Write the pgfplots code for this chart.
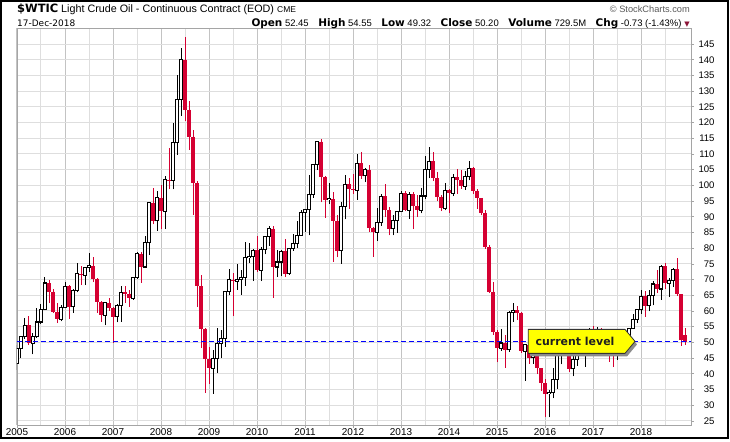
\documentclass[border=0pt]{standalone}
\usepackage{fontspec}
\setmainfont{Liberation Sans}
\newfontfamily\dejavu{DejaVu Sans}
\usepackage{pgfplots}
\pgfplotsset{compat=1.18}
\usepackage{pgfplotstable}

\definecolor{candlered}{RGB}{213,0,50}
\definecolor{gridyear}{RGB}{195,195,195}
\definecolor{gridlight}{RGB}{222,222,222}
\definecolor{axisgray}{RGB}{165,165,165}
\definecolor{levelblue}{RGB}{0,0,255}
\definecolor{calloutyellow}{RGB}{255,255,0}
\definecolor{arrowred}{RGB}{140,20,55}

% month index m: Jan 2005 = 0
\pgfplotstableread{
m o h l c
0 43.4 49.3 41.3 48.2
1 48.2 52.0 45.0 51.8
2 51.8 57.7 51.1 55.4
4 49.7 53.0 46.2 52.0
5 52.0 60.9 51.5 56.5
6 56.5 62.3 55.7 60.6
7 60.6 70.9 60.3 68.9
11 57.3 61.8 56.7 61.0
12 61.0 69.2 60.8 67.9
14 61.4 67.1 59.5 66.6
15 66.6 75.4 65.9 71.9
17 71.3 74.0 68.2 73.9
18 73.9 78.4 72.4 74.4
22 58.7 62.9 55.4 62.6
25 58.1 62.3 56.4 61.8
26 61.8 68.1 56.6 65.9
29 64.0 70.8 63.5 70.7
30 70.7 78.8 70.2 78.2
32 74.0 83.9 73.8 81.7
33 81.7 94.7 77.8 94.5
35 88.7 98.2 85.6 96.0
37 91.8 103.1 86.1 101.8
39 101.6 119.9 98.7 113.5
40 113.5 135.1 109.7 127.4
41 127.4 143.7 122.0 140.0
49 41.7 47.6 33.6 44.8
50 44.8 54.7 40.2 49.7
51 49.7 54.0 45.0 51.1
52 51.1 66.4 48.6 66.3
53 66.3 73.4 65.0 69.9
55 69.5 75.0 66.7 70.0
56 70.0 72.9 65.1 70.6
57 70.6 82.0 68.0 77.0
58 77.0 81.5 75.2 77.4
59 77.4 79.6 69.5 79.4
61 72.9 80.5 69.5 79.7
62 79.7 83.9 78.0 83.8
63 83.8 87.2 80.8 86.2
65 74.0 79.4 70.8 75.6
66 75.6 79.4 71.0 79.0
68 71.9 80.2 71.6 80.0
69 80.0 84.4 79.2 81.4
70 81.4 88.6 80.1 84.1
71 84.1 92.1 84.0 91.4
72 91.4 92.6 85.1 92.2
73 92.2 103.4 84.1 97.0
74 97.0 106.9 96.0 106.7
75 106.7 114.0 105.0 113.9
78 95.4 100.6 94.0 95.8
81 79.2 94.6 75.0 93.2
82 93.2 103.4 89.2 100.4
85 98.5 110.0 95.4 107.1
87 103.0 105.5 101.0 104.9
90 85.0 92.9 82.3 88.1
91 88.1 97.4 87.1 96.5
94 86.2 90.4 84.1 88.9
95 88.9 91.9 84.9 91.8
96 91.8 98.2 91.5 97.5
98 92.1 97.9 89.3 97.2
101 92.0 99.0 91.1 96.6
102 96.6 109.3 95.5 105.0
103 105.0 112.2 102.2 107.7
107 92.7 100.8 92.0 98.4
109 97.5 103.6 96.6 102.6
112 99.7 104.5 98.6 102.7
113 102.7 107.7 101.6 105.4
121 48.2 54.2 47.4 49.8
123 47.6 59.9 47.0 59.6
124 59.6 62.6 56.5 60.3
127 47.1 49.3 37.8 49.2
129 45.1 50.9 43.2 46.6
133 33.6 34.7 26.1 33.9
134 33.9 41.9 32.2 38.3
135 38.3 46.8 35.2 45.9
136 45.9 50.2 43.0 49.1
139 41.6 48.8 39.2 44.7
140 44.7 48.3 42.5 48.2
142 46.9 49.9 42.2 49.4
143 49.4 54.5 49.3 53.7
145 52.8 54.9 51.2 54.0
150 46.0 50.4 44.4 50.2
152 47.2 52.9 46.5 51.7
153 51.7 54.5 49.1 54.4
154 54.4 59.1 54.2 57.4
155 57.4 60.5 56.1 60.4
156 60.4 66.7 59.1 64.7
158 61.6 66.6 59.9 64.9
159 64.9 69.6 61.8 68.6
161 67.0 74.5 63.6 74.2
163 68.8 70.4 64.4 69.8
164 69.8 73.8 67.6 73.3
}\upcandles

\pgfplotstableread{
m o h l c
3 55.4 58.3 49.2 49.7
8 68.9 70.0 62.5 66.2
9 66.2 66.9 59.3 59.8
10 59.8 62.5 56.1 57.3
13 67.9 68.3 57.6 61.4
16 71.9 74.4 68.2 71.3
19 74.4 77.2 69.2 70.3
20 70.3 70.5 59.5 62.9
21 62.9 63.3 56.6 58.7
23 62.6 64.0 60.1 61.1
24 61.1 61.3 49.9 58.1
27 65.9 67.9 62.6 65.5
28 65.5 66.6 61.2 64.0
31 78.2 78.8 69.0 74.0
34 94.5 99.3 87.6 88.7
36 96.0 100.1 86.1 91.8
38 101.8 111.8 98.7 101.5
42 140.0 147.3 120.4 124.1
43 124.1 126.7 111.3 115.5
44 115.5 117.5 90.5 100.6
45 100.6 101.5 61.3 67.8
46 67.8 71.6 48.2 54.4
47 54.4 54.6 33.9 44.6
48 44.6 48.6 36.8 41.7
54 69.9 72.0 58.3 69.5
60 79.4 84.0 72.4 72.9
64 86.2 87.0 64.2 74.0
67 79.0 83.0 70.8 71.9
76 113.9 114.8 94.6 102.7
77 102.7 103.0 89.7 95.4
79 95.7 98.0 75.7 88.8
80 88.8 90.5 77.1 79.2
83 100.4 102.4 92.5 98.8
84 98.8 103.7 97.3 98.5
86 107.1 110.5 102.1 103.0
88 104.9 106.4 85.2 86.5
89 86.5 86.8 77.3 85.0
92 96.5 100.4 89.9 92.2
93 92.2 93.0 84.1 86.2
97 97.5 98.2 91.7 92.1
99 97.2 97.8 86.1 93.5
100 93.5 97.0 89.9 92.0
104 107.7 110.7 101.5 102.3
105 102.3 104.4 95.0 96.4
106 96.4 97.0 91.8 92.7
108 98.4 98.7 91.2 97.5
110 102.6 105.2 97.4 101.6
111 101.6 105.0 98.9 99.7
114 105.4 106.0 97.2 98.2
115 98.2 98.9 92.5 96.0
116 96.0 96.1 90.4 91.2
117 91.2 92.2 79.8 80.5
118 80.5 80.9 65.7 66.2
119 66.2 69.1 52.4 53.3
120 53.3 54.0 43.6 48.2
122 49.8 52.5 42.0 47.6
125 60.3 61.6 57.2 59.5
126 59.5 59.6 46.7 47.1
128 49.2 49.3 43.2 45.1
130 46.6 48.4 39.9 41.7
131 41.7 42.0 34.5 37.0
132 37.0 38.4 26.2 33.6
137 49.1 51.7 46.7 48.3
138 48.3 49.0 40.6 41.6
141 48.2 51.9 46.5 46.9
144 53.7 55.2 50.7 52.8
146 54.0 54.6 47.1 50.6
147 50.6 53.8 48.2 49.3
148 49.3 52.0 43.8 48.3
149 48.3 48.9 42.1 46.0
151 50.2 50.4 45.6 47.2
157 64.7 66.3 58.1 61.6
160 68.6 72.9 65.8 67.0
162 74.2 75.3 67.0 68.8
165 73.3 76.9 64.9 65.3
166 65.3 65.4 49.0 50.9
167 52.3 54.6 49.3 50.2
}\downcandles

\begin{document}
\begin{tikzpicture}[x=1bp,y=1bp]
\path[use as bounding box] (-17,-17) rectangle (713,425);
\begin{axis}[
  at={(0,0)}, anchor=south west,
  scale only axis, width=674bp, height=397bp,
  xmin=0, xmax=168.5, ymin=23.7, ymax=150.1,
  axis line style={axisgray, line width=0.8bp},
  xtick={0,12,...,156},
  xticklabels={2005,2006,2007,2008,2009,2010,2011,2012,2013,2014,2015,2016,2017,2018},
  minor xtick={6,18,...,162},
  ytick={25,30,...,145},
  xtick pos=bottom, ytick pos=right, yticklabel pos=right,
  tick align=outside, major tick length=3bp, minor tick length=0pt,
  tick style={axisgray, line width=0.7bp},
  xmajorgrids, xminorgrids, ymajorgrids,
  major x grid style={gridyear, line width=1bp},
  minor x grid style={gridlight, line width=1bp},
  major y grid style={gridlight, line width=1bp},
  /pgf/number format/assume math mode=true,
  xticklabel style={font=\fontsize{10}{12}\selectfont, inner sep=0pt, anchor=north, yshift=0bp},
  yticklabel style={font=\fontsize{9.6}{11}\selectfont, inner sep=0pt, anchor=east, xshift=20.7bp},
  clip=true,
]
% wicks
\addplot[black, line width=1bp, quiver={u=0, v=\thisrow{h}-\thisrow{l}}] table[x=m, y=l] {\upcandles};
\addplot[candlered, line width=1bp, quiver={u=0, v=\thisrow{h}-\thisrow{l}}] table[x=m, y=l] {\downcandles};
% filled (down) bodies
\addplot[candlered, line width=3.5bp, quiver={u=0, v=\thisrow{c}-\thisrow{o}}] table[x=m, y=o] {\downcandles};
% hollow (up) bodies
\addplot[black, line width=3.6bp, quiver={u=0, v=\thisrow{c}-\thisrow{o}+0.34}] table[x=m, y expr=\thisrow{o}-0.17] {\upcandles};
\addplot[white, line width=1.5bp, quiver={u=0, v=\thisrow{c}-\thisrow{o}-0.34}] table[x=m, y expr=\thisrow{o}+0.17] {\upcandles};
% current level
\addplot[levelblue, line width=1bp, dash pattern=on 5bp off 3bp] coordinates {(0,50.2) (168.5,50.2)};
% callout
\fill[black!45] ([xshift=2bp,yshift=-3bp]axis cs:127.8,54.14) -- ([xshift=2bp,yshift=-3bp]axis cs:152,54.14) -- ([xshift=2bp,yshift=-3bp]axis cs:154.5,50.32) -- ([xshift=2bp,yshift=-3bp]axis cs:152,46.5) -- ([xshift=2bp,yshift=-3bp]axis cs:127.8,46.5) -- cycle;
\draw[black!80, fill=calloutyellow, line width=0.8bp] (axis cs:127.8,54.14) -- (axis cs:152,54.14) -- (axis cs:154.5,50.32) -- (axis cs:152,46.5) -- (axis cs:127.8,46.5) -- cycle;
\node[font=\dejavu\bfseries\fontsize{11}{13}\selectfont, text=black!88, inner sep=0pt] at (axis cs:139.5,50.4) {current level};
\end{axis}
% frame
\draw[black, line width=1.5bp] (-16,-13) rectangle (711,424);
% header
\node[anchor=base west, inner sep=0pt, font=\dejavu\bfseries\fontsize{11.5}{13}\selectfont] at (0,412.7) {\$WTIC};
\node[anchor=base west, inner sep=0pt, font=\fontsize{10.8}{13}\selectfont] at (44,412.7) {Light Crude Oil - Continuous Contract (EOD)};
\node[anchor=base west, inner sep=0pt, font=\fontsize{8.5}{10}\selectfont] at (260,412.7) {CME};
\node[anchor=base east, inner sep=0pt, font=\fontsize{9.3}{11}\selectfont, text=black!65] at (673,412.2) {\textcopyright{} StockCharts.com};
\node[anchor=base west, inner sep=0pt, font=\dejavu\fontsize{9}{11}\selectfont] at (0,398.4) {17-Dec-2018};
\node[anchor=base east, inner sep=0pt, font=\fontsize{9.5}{11}\selectfont] at (673,398.4) {%
{\dejavu\bfseries\fontsize{10.5}{12}\selectfont Open} 52.45\hspace{9.5bp}%
{\dejavu\bfseries\fontsize{10.5}{12}\selectfont High} 54.55\hspace{9.5bp}%
{\dejavu\bfseries\fontsize{10.5}{12}\selectfont Low} 49.32\hspace{9.5bp}%
{\dejavu\bfseries\fontsize{10.5}{12}\selectfont Close} 50.20\hspace{9.5bp}%
{\dejavu\bfseries\fontsize{10.5}{12}\selectfont Volume} 729.5M\hspace{9.5bp}%
{\dejavu\bfseries\fontsize{10.5}{12}\selectfont Chg} -0.73 (-1.43\%)\hspace{3bp}%
{\dejavu\fontsize{7}{9}\selectfont\color{arrowred}▼}};
\end{tikzpicture}
\end{document}
